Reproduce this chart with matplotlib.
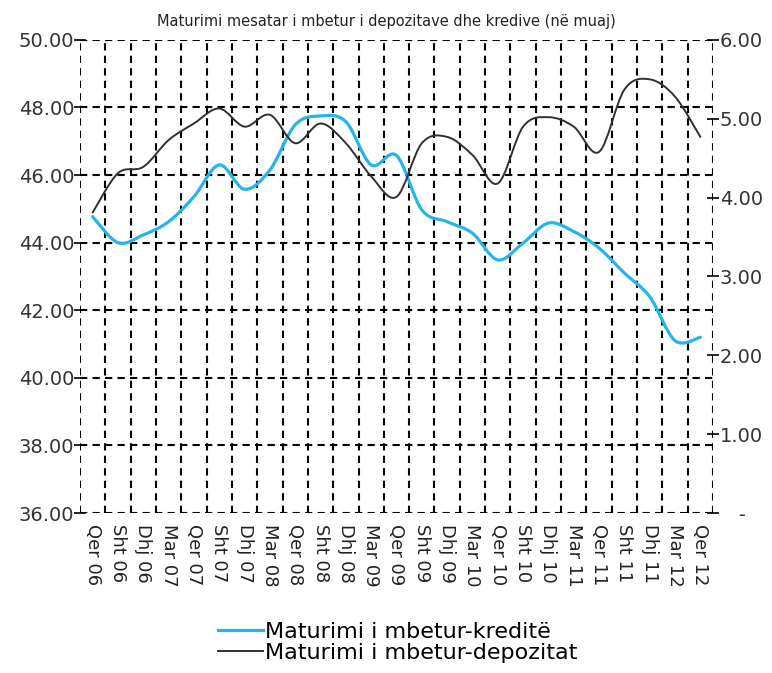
import numpy as np
import matplotlib
matplotlib.use("Agg")
import matplotlib.pyplot as plt
from matplotlib.path import Path
from matplotlib.patches import PathPatch
from matplotlib.lines import Line2D

months = ["Qer 06", "Sht 06", "Dhj 06", "Mar 07", "Qer 07", "Sht 07", "Dhj 07",
          "Mar 08", "Qer 08", "Sht 08", "Dhj 08", "Mar 09", "Qer 09", "Sht 09",
          "Dhj 09", "Mar 10", "Qer 10", "Sht 10", "Dhj 10", "Mar 11", "Qer 11",
          "Sht 11", "Dhj 11", "Mar 12", "Qer 12"]

# left axis, months
kredite = [44.77, 44.0, 44.23, 44.62, 45.36, 46.3, 45.58, 46.15, 47.49, 47.75,
           47.58, 46.3, 46.58, 44.97, 44.62, 44.28, 43.49, 43.99, 44.58, 44.33,
           43.84, 43.1, 42.4, 41.1, 41.2]
# right axis, months
depozitat = [3.81, 4.31, 4.39, 4.73, 4.94, 5.13, 4.9, 5.05, 4.69, 4.94,
             4.69, 4.27, 4.01, 4.69, 4.77, 4.54, 4.18, 4.9, 5.02, 4.9,
             4.58, 5.37, 5.5, 5.28, 4.77]

left_ticks = [36, 38, 40, 42, 44, 46, 48, 50]
right_ticks = [0, 1, 2, 3, 4, 5, 6]

title = "Maturimi mesatar i mbetur i depozitave dhe kredive (në muaj)"
lbl_kred = "Maturimi i mbetur-kreditë"
lbl_dep = "Maturimi i mbetur-depozitat"

BLUE = "#27b4e6"
DARK = "#303030"


def smooth_path(xs, ys, t=1.0 / 6):
    # catmull-rom style bezier through the points (like excel smoothed line)
    pts = np.column_stack([xs, ys]).astype(float)
    verts = [pts[0]]
    codes = [Path.MOVETO]
    n = len(pts)
    for i in range(n - 1):
        p0 = pts[max(i - 1, 0)]
        p1 = pts[i]
        p2 = pts[i + 1]
        p3 = pts[min(i + 2, n - 1)]
        c1 = p1 + (p2 - p0) * t
        c2 = p2 - (p3 - p1) * t
        verts += [c1, c2, p2]
        codes += [Path.CURVE4] * 3
    return Path(verts, codes)


fig = plt.figure(figsize=(7.72, 6.73), dpi=100)
ax = fig.add_axes([0.1036, 0.2377, 0.82, 0.703])
ax2 = ax.twinx()

x = np.arange(len(months))
ax.set_xlim(-0.5, len(months) - 0.5)
ax.set_ylim(36, 50)
ax2.set_ylim(0, 6)

dash = (0, (3.5, 2.5))
# grid
for b in np.arange(-0.5, len(months), 1.0):
    ax.axvline(b, color="black", lw=1.5, ls=dash, zorder=1)
for v in left_ticks:
    ax.axhline(v, color="black", lw=1.5, ls=dash, zorder=1)
for s in ax.spines.values():
    s.set_visible(False)
for s in ax2.spines.values():
    s.set_visible(False)

# smoothed paths in data coords of each axis
ax.add_patch(PathPatch(smooth_path(x, kredite), fill=False, ec=BLUE, lw=2.3,
                       zorder=3, capstyle="round", joinstyle="round"))
ax2.add_patch(PathPatch(smooth_path(x, depozitat), fill=False, ec=DARK, lw=1.4,
                        zorder=3, capstyle="round", joinstyle="round"))

ax.set_xticks(x)
ax.set_xticklabels(months, rotation=-90, fontsize=13, va="top", ha="center",
                   color="#222222")
ax.tick_params(axis="x", length=0, pad=8)

ax.set_yticks(left_ticks)
ax.set_yticklabels(["%.2f" % v for v in left_ticks], fontsize=14, color="#333333")
ax.tick_params(axis="y", direction="inout", length=8, width=1.2, pad=0)

ax2.set_yticks(right_ticks)
ax2.set_yticklabels(["   -" if v == 0 else "%.2f" % v for v in right_ticks],
                    fontsize=14, color="#333333")
ax2.tick_params(axis="y", direction="inout", length=8, width=1.2, pad=1)

fig.text(0.5, 0.968, title, ha="center", va="center", fontsize=10.5,
         color="#222222")

handles = [Line2D([], [], color=BLUE, lw=2.3), Line2D([], [], color=DARK, lw=1.4)]
fig.legend(handles, [lbl_kred, lbl_dep], loc="center", bbox_to_anchor=(0.515, 0.045),
           frameon=False, fontsize=16, handlelength=2.0, handletextpad=0.1,
           labelspacing=0.05, borderpad=0)

fig.savefig("out.png", dpi=100)
